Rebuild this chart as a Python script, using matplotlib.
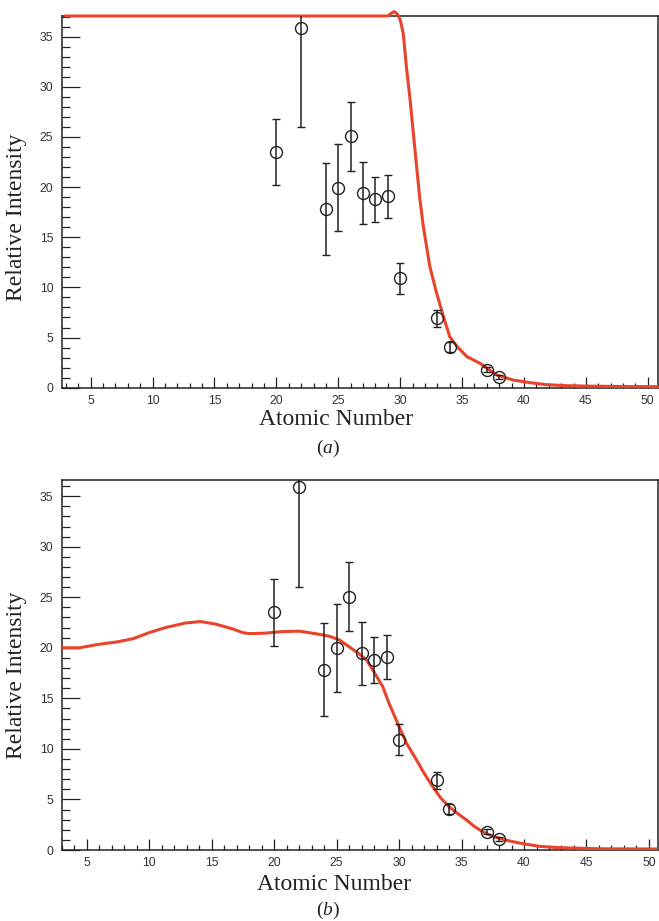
import matplotlib
matplotlib.use("Agg")
import matplotlib.pyplot as plt
from matplotlib.ticker import MultipleLocator

plt.rcParams["mathtext.fontset"] = "custom"
plt.rcParams["mathtext.it"] = "Liberation Serif:italic"
plt.rcParams["mathtext.rm"] = "Liberation Serif"

# ---------------- data ----------------
atomic_number = [20, 22, 24, 25, 26, 27, 28, 29, 30, 33, 34, 37, 38]
rel_intensity = [23.5, 35.9, 17.85, 19.95, 25.05, 19.45, 18.8, 19.1, 10.9, 6.9, 4.05, 1.8, 1.05]
rel_error     = [3.3, 9.9, 4.6, 4.35, 3.4, 3.1, 2.25, 2.15, 1.55, 0.85, 0.5, 0.25, 0.2]

# model curve, panel (a)
curve_a_z = [3.0, 29.0, 29.25, 29.5, 29.75, 30.0, 30.25, 30.5, 30.8, 31.06, 31.33, 31.6, 31.87,
             32.4, 32.95, 33.5, 34.0, 34.6, 35.4, 36.45, 37.8, 39.1, 40.5, 41.8, 43.5, 45.5, 48.0, 50.8]
curve_a_i = [37.06, 37.06, 37.3, 37.5, 37.3, 36.7, 35.3, 32.0, 28.7, 25.4, 22.0, 18.7, 16.05,
             12.06, 9.4, 7.08, 5.09, 4.09, 3.09, 2.43, 1.27, 0.77, 0.5, 0.3, 0.2, 0.15, 0.12, 0.1]

# model curve, panel (b)
curve_b_z = [3.0, 4.4, 6.0, 7.5, 8.7, 10.0, 11.3, 12.9, 14.1, 15.3, 16.6, 17.5, 18.0, 19.3,
             20.6, 22.0, 23.3, 24.4, 25.2, 26.0, 26.7, 27.4, 28.0, 28.7, 29.2, 30.0, 30.6,
             31.4, 32.0, 32.7, 33.3, 34.0, 34.7, 35.4, 36.0, 36.7, 37.5, 38.5, 39.2, 39.9,
             41.2, 42.5, 43.7, 46.0, 50.7]
curve_b_i = [20.0, 20.0, 20.35, 20.6, 20.9, 21.5, 22.0, 22.45, 22.6, 22.35, 21.9, 21.5, 21.4, 21.45,
             21.6, 21.65, 21.4, 21.15, 20.8, 20.1, 19.5, 18.8, 17.6, 16.15, 14.5, 12.2, 10.55,
             8.9, 7.6, 6.26, 5.2, 4.28, 3.6, 2.97, 2.35, 1.8, 1.35, 1.0, 0.8, 0.63,
             0.37, 0.25, 0.2, 0.12, 0.1]

x_label = "Atomic Number"
y_label = "Relative Intensity"
panel_labels = ["(" + "$\\it{a}$" + ")", "(" + "$\\it{b}$" + ")"]

# ---------------- style ----------------
RED = "#e8442c"
INK = "#222222"
SERIF = ["Liberation Serif", "DejaVu Serif"]
SANS = ["Liberation Sans", "DejaVu Sans"]

W, H = 659, 921
fig = plt.figure(figsize=(W / 100, H / 100), dpi=100)


def make_axes(left_px, right_px, top_px, bottom_px, xlim, ylim, cz, ci, clip_curve,
              ylab_xy, xlab_xy):
    ax = fig.add_axes([left_px / W, 1 - bottom_px / H,
                       (right_px - left_px) / W, (bottom_px - top_px) / H])
    ax.set_xlim(*xlim)
    ax.set_ylim(*ylim)
    for s in ax.spines.values():
        s.set_linewidth(1.1)
        s.set_color(INK)
    ax.xaxis.set_major_locator(MultipleLocator(5))
    ax.xaxis.set_minor_locator(MultipleLocator(1))
    ax.yaxis.set_major_locator(MultipleLocator(5))
    ax.yaxis.set_minor_locator(MultipleLocator(1))
    ax.tick_params(axis="both", which="both", direction="in", top=False, right=False,
                   color=INK, width=0.9)
    ax.tick_params(axis="x", which="major", length=8, pad=5)
    ax.tick_params(axis="x", which="minor", length=3.5)
    ax.tick_params(axis="y", which="major", length=13, pad=6)
    ax.tick_params(axis="y", which="minor", length=6)
    for lab in ax.get_xticklabels() + ax.get_yticklabels():
        lab.set_fontfamily(SANS)
        lab.set_fontsize(8.8)
        lab.set_color("#333333")

    ax.plot(cz, ci, color=RED, lw=2.2, clip_on=clip_curve, zorder=3, solid_joinstyle="round")
    ax.errorbar(atomic_number, rel_intensity, yerr=rel_error, fmt="o", ms=8.6,
                mfc="none", mec=INK, mew=1.0, ecolor=INK, elinewidth=1.1,
                capsize=3.2, capthick=1.1, zorder=4)

    ax.set_ylabel(y_label, fontfamily=SERIF, fontsize=17, color=INK)
    ax.yaxis.set_label_coords(*ylab_xy)
    ax.set_xlabel(x_label, fontfamily=SERIF, fontsize=17, color=INK)
    ax.xaxis.set_label_coords(*xlab_xy)
    return ax


ax_a = make_axes(61.7, 657.7, 15.7, 387.7, (2.66, 50.8), (0, 37.09),
                 curve_a_z, curve_a_i, False, (-0.058, 0.4575), (0.46, -0.058))
ax_b = make_axes(61.7, 657.7, 480.0, 850.0, (3.0, 50.7), (0, 36.6),
                 curve_b_z, curve_b_i, True, (-0.058, 0.471), (0.457, -0.066))

fig.text(328 / W, 1 - 448 / H, panel_labels[0], ha="center", va="center",
         fontfamily=SERIF, fontsize=14, color=INK)
fig.text(328 / W, 1 - 910 / H, panel_labels[1], ha="center", va="center",
         fontfamily=SERIF, fontsize=14, color=INK)

fig.savefig("out.png", dpi=100)
